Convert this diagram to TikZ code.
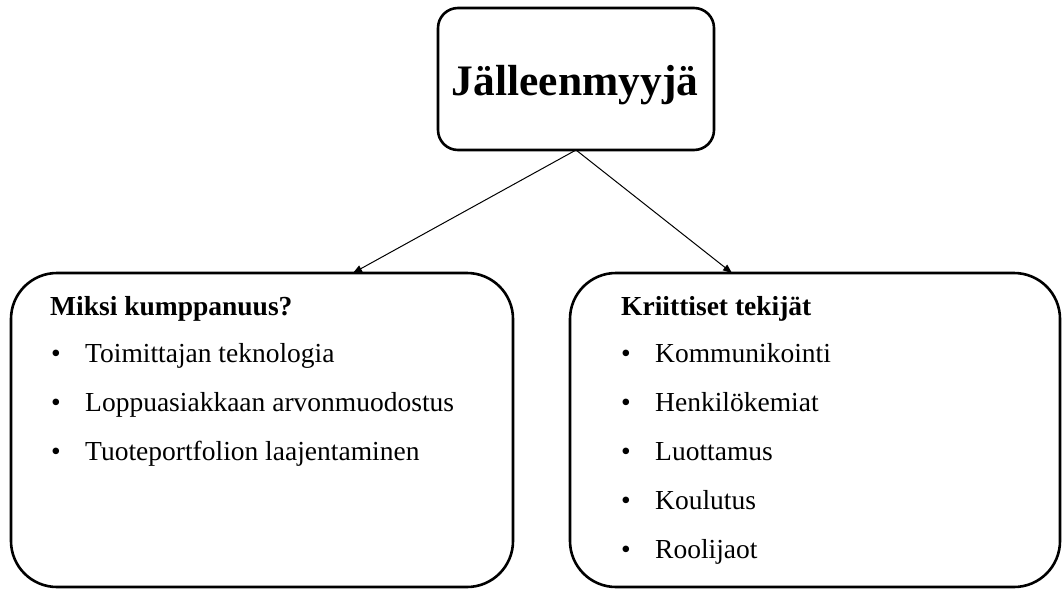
\documentclass[tikz,border=0pt]{standalone}
\usepackage{fontspec}
\setmainfont{Liberation Serif}
\usetikzlibrary{arrows.meta}
\begin{document}
\begin{tikzpicture}[x=1pt,y=-1pt,
  boxstyle/.style={draw=black,line width=2.6pt,rounded corners=#1,inner sep=0pt,outer sep=0pt},
  headstyle/.style={anchor=base west,inner sep=0pt,font=\fontsize{27.5}{32}\selectfont\bfseries},
  itemstyle/.style={anchor=base west,inner sep=0pt,font=\fontsize{27.5}{32}\selectfont},
  bulletstyle/.style={anchor=base west,inner sep=0pt,font=\fontsize{27.5}{32}\selectfont},
  arrowstyle/.style={line width=1pt,-{Triangle[length=9pt,width=7pt]}}]
\useasboundingbox (0,0) rectangle (1064,589);
\node[boxstyle=20pt,minimum width=276pt,minimum height=142pt] (top) at (576,79) {};
\node[boxstyle=46pt,minimum width=502pt,minimum height=314pt] (left) at (262,430) {};
\node[boxstyle=46pt,minimum width=490pt,minimum height=314pt] (right) at (815,430) {};
\node[anchor=base,inner sep=0pt,font=\fontsize{43.5}{50}\selectfont\bfseries] (title) at (575,95) {Jälleenmyyjä};
\coordinate (la) at (353,273);
\coordinate (ra) at (732,273);
\draw[arrowstyle] (top.south) -- (la);
\draw[arrowstyle] (top.south) -- (ra);
% left
\node[headstyle] (lh) at (50,315) {Miksi kumppanuus?};
\node[bulletstyle] (lb1) at (51,362) {•};
\node[itemstyle] (l1) at (85,362) {Toimittajan teknologia};
\node[bulletstyle] (lb2) at (51,411) {•};
\node[itemstyle] (l2) at (85,411) {Loppuasiakkaan arvonmuodostus};
\node[bulletstyle] (lb3) at (51,460) {•};
\node[itemstyle] (l3) at (85,460) {Tuoteportfolion laajentaminen};
% right
\node[headstyle] (rh) at (621,315) {Kriittiset tekijät};
\node[bulletstyle] (rb1) at (621,362) {•};
\node[itemstyle] (r1) at (655,362) {Kommunikointi};
\node[bulletstyle] (rb2) at (621,411) {•};
\node[itemstyle] (r2) at (655,411) {Henkilökemiat};
\node[bulletstyle] (rb3) at (621,460) {•};
\node[itemstyle] (r3) at (655,460) {Luottamus};
\node[bulletstyle] (rb4) at (621,509) {•};
\node[itemstyle] (r4) at (655,509) {Koulutus};
\node[bulletstyle] (rb5) at (621,558) {•};
\node[itemstyle] (r5) at (655,558) {Roolijaot};
\end{tikzpicture}
\end{document}
